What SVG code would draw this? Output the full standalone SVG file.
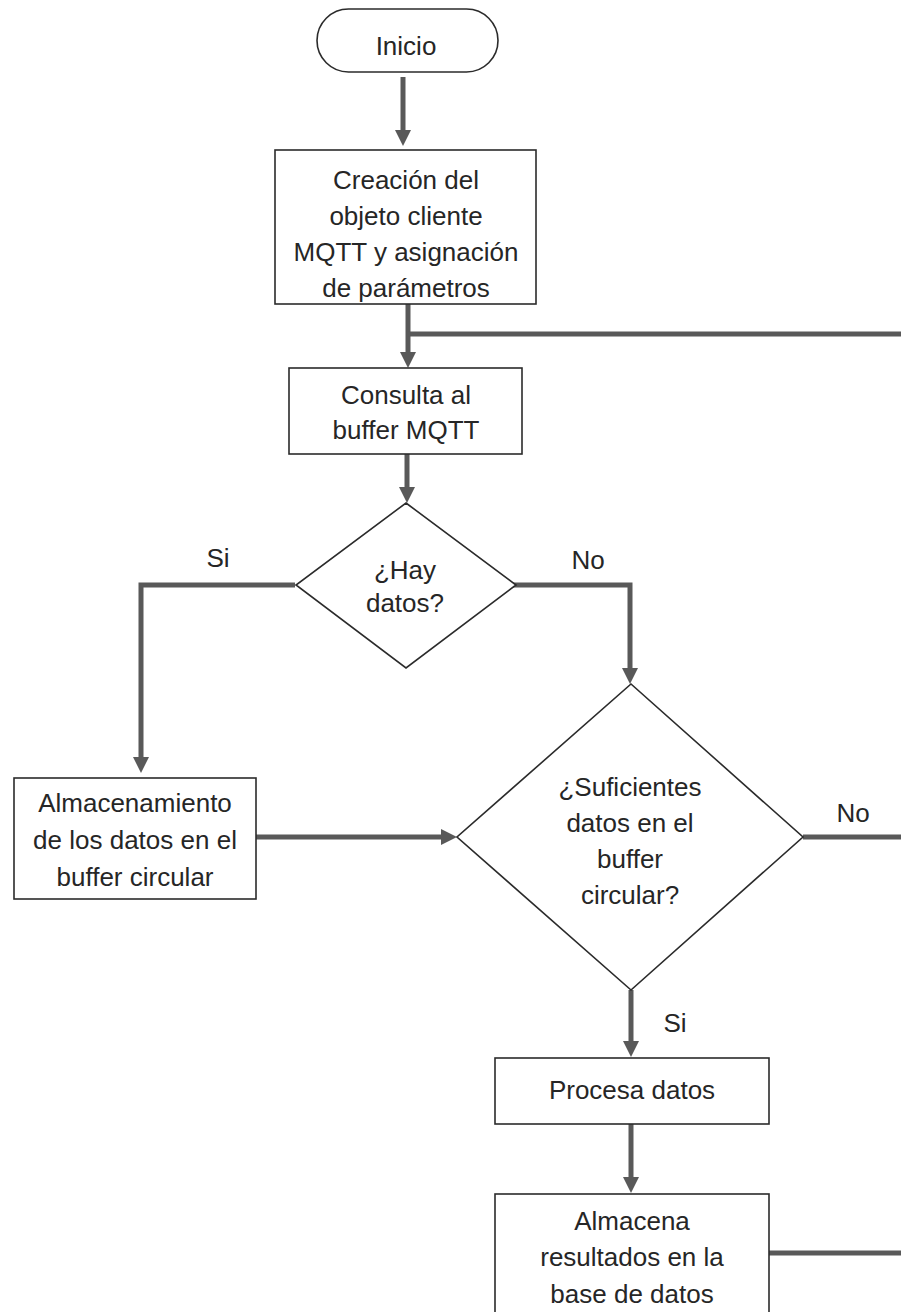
<svg xmlns="http://www.w3.org/2000/svg" width="901" height="1312" viewBox="0 0 901 1312">
<style>
.shape{fill:#fff;stroke:#2b2b2b;stroke-width:1.6}
.conn{fill:none;stroke:#595959;stroke-width:5}
text{font-family:"Liberation Sans",Arial,sans-serif;font-size:26px;fill:#262626;text-anchor:middle}
</style>
<defs>
<marker id="ah" viewBox="0 0 16 16" refX="1" refY="8" markerWidth="16" markerHeight="16" markerUnits="userSpaceOnUse" orient="auto">
<path d="M0,0 L16,8 L0,16 z" fill="#595959"/>
</marker>
</defs>
<rect x="0" y="0" width="901" height="1312" fill="#fff"/>
<g id="connectors">
<path class="conn" d="M403,77 V131" marker-end="url(#ah)"/>
<path class="conn" d="M408,304 V353" marker-end="url(#ah)"/>
<path class="conn" d="M408,334 H901"/>
<path class="conn" d="M407,454 V488" marker-end="url(#ah)"/>
<path class="conn" d="M295,585 H141 V758" marker-end="url(#ah)"/>
<path class="conn" d="M513,585 H630 V669" marker-end="url(#ah)"/>
<path class="conn" d="M256,837 H442" marker-end="url(#ah)"/>
<path class="conn" d="M803,837 H901"/>
<path class="conn" d="M631,990 V1042" marker-end="url(#ah)"/>
<path class="conn" d="M631,1124 V1178" marker-end="url(#ah)"/>
<path class="conn" d="M769,1253 H901"/>
<text x="218" y="567">Si</text>
<text x="588" y="569">No</text>
<text x="853" y="822">No</text>
<text x="675" y="1032">Si</text>
</g>
<g id="inicio">
<rect class="shape" x="317" y="9" width="181" height="63" rx="31.5"/>
<text x="406" y="55">Inicio</text>
</g>
<g id="crear-cliente">
<rect class="shape" x="275" y="150" width="261" height="154"/>
<text x="406" y="189">Creación del</text>
<text x="406" y="225">objeto cliente</text>
<text x="406" y="261">MQTT y asignación</text>
<text x="406" y="297">de parámetros</text>
</g>
<g id="consulta">
<rect class="shape" x="289" y="368" width="233" height="86"/>
<text x="406" y="404">Consulta al</text>
<text x="406" y="439">buffer MQTT</text>
</g>
<g id="hay-datos">
<path class="shape" d="M406,503 L516,585 L406,668 L296,585 Z"/>
<text x="405" y="579">¿Hay</text>
<text x="405" y="612">datos?</text>
</g>
<g id="almacenamiento">
<rect class="shape" x="14" y="778" width="242" height="121"/>
<text x="135" y="812">Almacenamiento</text>
<text x="135" y="849">de los datos en el</text>
<text x="135" y="886">buffer circular</text>
</g>
<g id="suficientes">
<path class="shape" d="M631,684 L803,837 L631,990 L457,837 Z"/>
<text x="630" y="796">¿Suficientes</text>
<text x="630" y="832">datos en el</text>
<text x="630" y="868">buffer</text>
<text x="630" y="904">circular?</text>
</g>
<g id="procesa">
<rect class="shape" x="495" y="1058" width="274" height="66"/>
<text x="632" y="1099">Procesa datos</text>
</g>
<g id="almacena">
<rect class="shape" x="495" y="1194" width="274" height="130"/>
<text x="632" y="1230">Almacena</text>
<text x="632" y="1266">resultados en la</text>
<text x="632" y="1303">base de datos</text>
</g>
</svg>
